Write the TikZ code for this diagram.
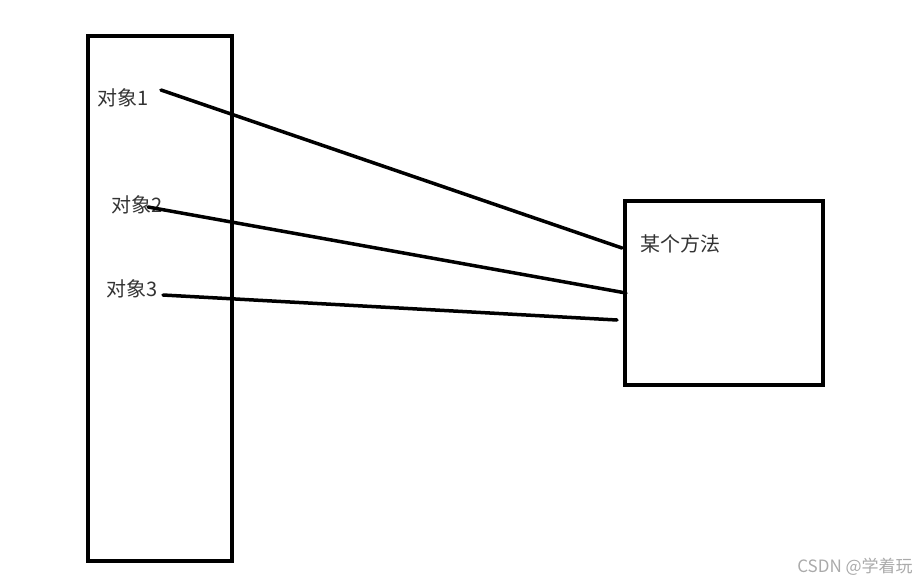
\documentclass[tikz,border=0pt]{standalone}
\usepackage{fontspec}
\usepackage{xcolor}
\usepackage{tikz}
\usetikzlibrary{positioning}
\newfontfamily\cjk{Noto Sans CJK SC}
\definecolor{txt}{RGB}{51,51,51}
\definecolor{mark}{RGB}{170,170,170}
\tikzset{
  box/.style  ={draw,line width=3.5pt,inner sep=0pt},
  lbl/.style  ={inner sep=0pt,text=txt,font=\cjk\fontsize{20}{24}\selectfont},
  wm/.style   ={inner sep=0pt,text=mark,font=\cjk\fontsize{17}{20}\selectfont},
  link/.style ={line width=3.5pt,line cap=round},
}

\begin{document}
\begin{tikzpicture}[x=1pt,y=-1pt]
  \useasboundingbox (0,0) rectangle (918,582);
  \node[box,minimum width=144pt,minimum height=525pt] (heap) at (160,298.5){};
  \node[box,minimum width=198pt,minimum height=184pt] (meth) at (724,293){};
  \node[lbl] (o1) at (123,98){对象1};
  \node[lbl] (o2) at (137,205){对象2};
  \node[lbl] (o3) at (132,289){对象3};
  \node[lbl] (mname) at (680,244){某个方法};
  \node[wm] (csdn) at (855,567){CSDN @学着玩};
  \coordinate (s1) at (161,90);  \coordinate (e1) at (622,248);
  \coordinate (s2) at (148,207); \coordinate (e2) at (626,293);
  \coordinate (s3) at (163,295); \coordinate (e3) at (617,320);
  \draw[link] (s1)--(e1); \draw[link] (s2)--(e2); \draw[link] (s3)--(e3);
\end{tikzpicture}
\end{document}
